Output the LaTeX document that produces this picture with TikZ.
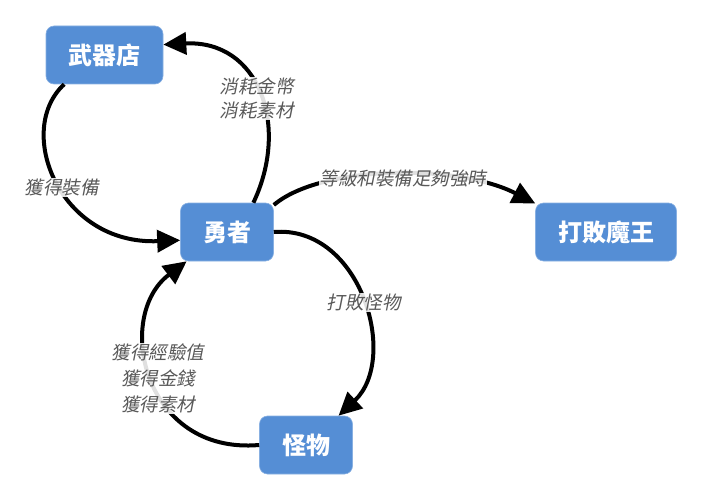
\documentclass[tikz,border=0pt]{standalone}
\usepackage{fontspec}
\setmainfont{Noto Sans CJK TC}
\newfontfamily\cjkit[FakeSlant=0.2]{Noto Sans CJK TC}
\usetikzlibrary{arrows.meta}
\definecolor{boxblue}{HTML}{558ED5}
\definecolor{lblgray}{HTML}{595959}
\begin{document}
\begin{tikzpicture}[x=1pt,y=-1pt,
  box/.style={draw=boxblue!70!white, line width=0.6pt, fill=boxblue, rounded corners=8pt, text=white,
    font=\fontsize{24}{26}\selectfont\bfseries, minimum height=58pt, inner xsep=22.5pt},
  conn/.style={line width=4pt, -{Triangle[length=23pt,width=22pt]}},
  lbl/.style={fill=white, fill opacity=0.88, text opacity=1, text=lblgray, inner sep=1pt,
    font=\cjkit\fontsize{18.5}{24}\selectfont, align=center}]
\useasboundingbox (0,0) rectangle (704,500);
\node[box] (wq) at (104.5,55) {武器店};
\node[box] (yu) at (227,232) {勇者};
\node[box] (dm) at (606,232) {打敗魔王};
\node[box] (mo) at (306,445) {怪物};

\draw[conn] (yu.48) .. controls +(37,-78) and +(95,-5) .. (wq.10)
  node[lbl,pos=0.5,xshift=-1pt,yshift=-6pt] {消耗金幣\\消耗素材};
\draw[conn] (wq.216) .. controls +(-50,46) and +(-121,5) .. (yu.190)
  node[lbl,pos=0.53] {獲得裝備};
\draw[conn] (yu.30) .. controls +(47,-40) and +(-78,-40) .. (dm.158)
  node[lbl,pos=0.52,xshift=4pt,yshift=-4pt] {等級和裝備足夠強時};
\draw[conn] (yu.east) .. controls +(87,-7) and +(61,-57) .. (mo.42)
  node[lbl,pos=0.5,xshift=2pt,yshift=-3pt] {打敗怪物};
\draw[conn] (mo.west) .. controls +(-116,10) and +(-73,55) .. (yu.216)
  node[lbl,pos=0.5,xshift=6pt,yshift=-1pt,font=\cjkit\fontsize{18.5}{26}\selectfont] {獲得經驗值\\獲得金錢\\獲得素材};
\end{tikzpicture}
\end{document}
